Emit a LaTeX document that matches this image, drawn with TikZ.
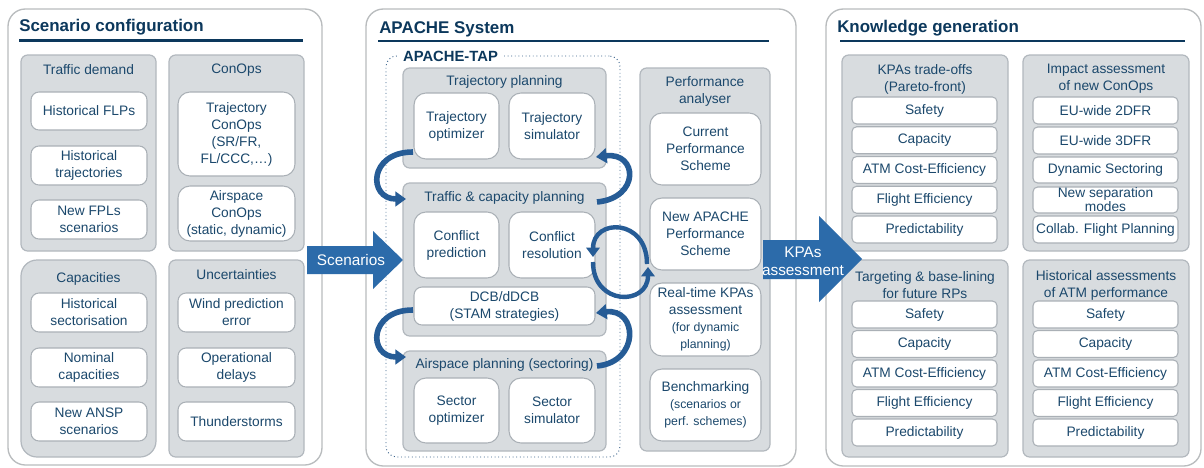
\documentclass[tikz,border=0pt]{standalone}
\usepackage{fontspec}
\setmainfont{Liberation Sans}
\usetikzlibrary{arrows.meta}
\definecolor{txt}{RGB}{27,72,108}
\definecolor{titc}{RGB}{12,56,92}
\definecolor{gfill}{RGB}{216,220,223}
\definecolor{gdraw}{RGB}{178,184,190}
\definecolor{wdraw}{RGB}{170,176,182}
\definecolor{pdraw}{RGB}{185,188,190}
\definecolor{arr}{RGB}{44,107,170}
\definecolor{arrc}{RGB}{38,92,150}
\definecolor{dotc}{RGB}{60,100,140}
\newcommand\myN{\fontsize{10.3}{12.75}\selectfont}
\newcommand\mySm{\fontsize{9.2}{11.3}\selectfont}
\newcommand\myT{\fontsize{12.7}{15}\selectfont\bfseries}
\newcommand\myA{\fontsize{11.5}{13.5}\selectfont}
\newcommand\bx[7]{%
  \pgfmathsetmacro\cx{(#3+#5)/2}\pgfmathsetmacro\cy{(#4+#6)/2}%
  \pgfmathsetmacro\ww{(#5-#3)*0.75}\pgfmathsetmacro\hh{(#6-#4)*0.75}%
  \node[#2,minimum width=\ww pt,minimum height=\hh pt] (#1) at (\cx,\cy) {#7};}
\begin{document}
\begin{tikzpicture}[x=0.75pt,y=-0.75pt,
 panel/.style={draw=pdraw, line width=1pt, fill=white, rounded corners=13pt, inner sep=0pt, outer sep=0pt},
 gbox/.style={draw=gdraw, fill=gfill, line width=0.9pt, rounded corners=5pt, inner sep=0pt, outer sep=0pt},
 wbox/.style={draw=wdraw, fill=white, line width=0.8pt, rounded corners=6pt, inner sep=0pt, outer sep=0pt, align=center, text=txt, font=\myN},
 rbox/.style={wbox, rounded corners=9pt},
 kbox/.style={wbox, rounded corners=3.5pt},
 head/.style={text=txt, align=center, font=\myN, inner sep=0pt},
 ptitle/.style={anchor=west, inner sep=0pt, text=titc, font=\myT},
 uline/.style={draw=titc, line width=2pt},
 tapbox/.style={draw=dotc, dotted, line width=0.7pt, rounded corners=8pt, inner sep=0pt, outer sep=0pt},
 taplabel/.style={fill=white, text=titc, font=\myT\fontsize{11.1}{13}\selectfont, inner sep=3pt},
 curv/.style={draw=arrc, line width=4.2pt, -{Triangle[length=8pt,width=11pt]}},
 circ/.style={draw=arrc, line width=3.3pt, -{Triangle[length=7pt,width=10pt]}},
 bigarr/.style={fill=arr},
 arrtext/.style={text=white, font=\myA, align=center, inner sep=0pt}
]
\path[use as bounding box] (0,0) rectangle (1204,468);
\fill[white] (0,0) rectangle (1204,468);

% ---------- panels ----------
\bx{p1}{panel}{8}{9}{322}{465}{}
\node[ptitle] (p1t) at (19,27) {Scenario configuration};
\draw[uline] (19,40.5) -- (303,40.5);
\bx{p2}{panel}{366}{9}{796}{466}{}
\node[ptitle] (p2t) at (379,29) {APACHE System};
\draw[uline] (378,41) -- (769,41);
\bx{p3}{panel}{826}{9}{1201}{466}{}
\node[ptitle] (p3t) at (837,28) {Knowledge generation};
\draw[uline] (840,41) -- (1185,41);

% ---------- scenario configuration ----------
\bx{td}{gbox}{21}{55}{156}{251}{}
\node[head] (tdh) at (88.5,70) {Traffic demand};
\bx{td1}{wbox}{31}{92}{147}{130}{Historical FLPs}
\bx{td2}{wbox}{31}{146}{147}{185}{Historical\\trajectories}
\bx{td3}{wbox}{31}{200}{147}{239}{New FPLs\\scenarios}

\bx{co}{gbox}{169}{55}{304}{251}{}
\node[head] (coh) at (236.5,70) {ConOps};
\bx{co1}{rbox}{178}{92}{295}{176}{Trajectory\\ConOps\\(SR/FR,\\FL/CCC,\ldots)}
\bx{co2}{rbox}{178}{186}{295}{241}{Airspace\\ConOps\\(static, dynamic)}

\bx{ca}{gbox, rounded corners=12pt}{21}{260}{156}{457}{}
\node[head] (cah) at (88.5,279) {Capacities};
\bx{ca1}{wbox}{31}{293}{147}{332}{Historical\\sectorisation}
\bx{ca2}{wbox}{31}{348}{147}{387}{Nominal\\capacities}
\bx{ca3}{wbox}{31}{402}{147}{441}{New ANSP\\scenarios}

\bx{un}{gbox}{169}{260}{304}{457}{}
\node[head] (unh) at (236.5,275) {Uncertainties};
\bx{un1}{wbox}{178}{293}{295}{332}{Wind prediction\\error}
\bx{un2}{wbox}{178}{348}{295}{387}{Operational\\delays}
\bx{un3}{wbox}{178}{402}{295}{441}{Thunderstorms}

% ---------- APACHE system ----------
\bx{tap}{tapbox}{386}{56}{620}{457}{}
\node[taplabel] (tapl) at (450.5,56.5) {APACHE-TAP};

\bx{tp}{gbox}{403}{68}{606}{168}{}
\node[head] (tph) at (504.5,82) {Trajectory planning};
\bx{tro}{rbox}{414}{93}{499}{159}{Trajectory\\optimizer}
\bx{trs}{rbox}{509}{93}{595}{159}{Trajectory\\simulator}

\bx{tc}{gbox}{403}{183}{606}{336}{}
\node[head] (tch) at (504.5,198) {Traffic \& capacity planning};
\bx{cp}{rbox}{414}{212}{499}{278}{Conflict\\prediction}
\bx{cr}{rbox}{509}{212}{595}{278}{Conflict\\resolution}
\bx{dcb}{wbox}{414}{287}{595}{325}{DCB/dDCB\\(STAM strategies)}

\bx{ap}{gbox}{403}{351}{606}{451}{}
\node[head] (aph) at (504.5,365) {Airspace planning (sectoring)};
\bx{so}{rbox}{414}{378}{499}{443}{Sector\\optimizer}
\bx{ss}{rbox}{509}{378}{595}{443}{Sector\\simulator}

\bx{pa}{gbox}{640}{68}{770}{451}{}
\node[head] (pah) at (705,91) {Performance\\analyser};
\bx{pa1}{rbox}{650}{113}{761}{185}{Current\\Performance\\Scheme}
\bx{pa2}{rbox}{650}{198}{761}{270}{New APACHE\\Performance\\Scheme}
\bx{pa3}{rbox}{650}{283}{761}{356}{Real-time KPAs\\assessment\\\mySm(for dynamic\\\mySm planning)}
\bx{pa4}{rbox}{650}{369}{761}{441}{Benchmarking\\\mySm(scenarios or\\\mySm perf. schemes)}

% ---------- knowledge generation ----------
\bx{g1}{gbox}{842}{55}{1008}{251}{}
\node[head] (g1h) at (925,79) {KPAs trade-offs\\(Pareto-front)};
\bx{g2}{gbox}{1023}{55}{1189}{251}{}
\node[head] (g2h) at (1106,79) {Impact assessment\\of new ConOps};
\bx{g3}{gbox}{842}{260}{1008}{457}{}
\node[head] (g3h) at (925,285) {Targeting \& base-lining\\for future RPs};
\bx{g4}{gbox}{1023}{260}{1189}{457}{}
\node[head] (g4h) at (1106,285) {Historical assessments\\of ATM performance};

\foreach \t [count=\i from 0] in {Safety,Capacity,ATM Cost-Efficiency,Flight Efficiency,Predictability}{
  \pgfmathsetmacro\ya{97+\i*29.75}\pgfmathsetmacro\yb{\ya+27}
  \bx{ka\i}{kbox}{852}{\ya}{997}{\yb}{\t}
  \pgfmathsetmacro\yc{301+\i*29.5}\pgfmathsetmacro\yd{\yc+27}
  \bx{kc\i}{kbox}{852}{\yc}{997}{\yd}{\t}
  \bx{kd\i}{kbox}{1033}{\yc}{1178}{\yd}{\t}
}
\bx{kb0}{kbox}{1033}{97}{1178}{124}{EU-wide 2DFR}
\bx{kb1}{kbox}{1033}{127}{1178}{154}{EU-wide 3DFR}
\bx{kb2}{kbox}{1033}{157}{1178}{183}{Dynamic Sectoring}
\bx{kb3}{kbox, font=\fontsize{10.3}{10.5}\selectfont}{1033}{187}{1178}{213}{New separation\\modes}
\bx{kb4}{kbox}{1033}{216}{1178}{243}{Collab. Flight Planning}

% ---------- big arrows ----------
\fill[bigarr] (307,246) -- (373,246) -- (373,231) -- (403,260) -- (373,289) -- (373,274) -- (307,274) -- cycle;
\node[arrtext] (scn) at (351,260) {Scenarios};
\fill[bigarr] (763,240) -- (819,240) -- (819,216) -- (862,259) -- (819,302) -- (819,279) -- (763,279) -- cycle;
\node[arrtext] (kpa) at (803,261) {KPAs\\assessment};

% ---------- curved arrows ----------
\coordinate (a1s) at (413,152); \coordinate (a1e) at (406,199);
\coordinate (a2s) at (413,310); \coordinate (a2e) at (406,357);
\coordinate (a3s) at (597,202); \coordinate (a3e) at (596,157);
\coordinate (a4s) at (597,366); \coordinate (a4e) at (596,313);
\coordinate (c1s) at (647,264); \coordinate (c1e) at (593,257);
\coordinate (c2s) at (593,262); \coordinate (c2e) at (648,267);
\draw[curv] (a1s) .. controls (368,152) and (368,199) .. (a1e);
\draw[curv] (a2s) .. controls (368,310) and (368,357) .. (a2e);
\draw[curv] (a3s) .. controls (640,198) and (638,152) .. (a3e);
\draw[curv] (a4s) .. controls (640,362) and (638,308) .. (a4e);
\draw[circ] (c1s) .. controls (647,218) and (593,218) .. (c1e);
\draw[circ] (c2s) .. controls (593,306) and (648,306) .. (c2e);
\end{tikzpicture}
\end{document}
